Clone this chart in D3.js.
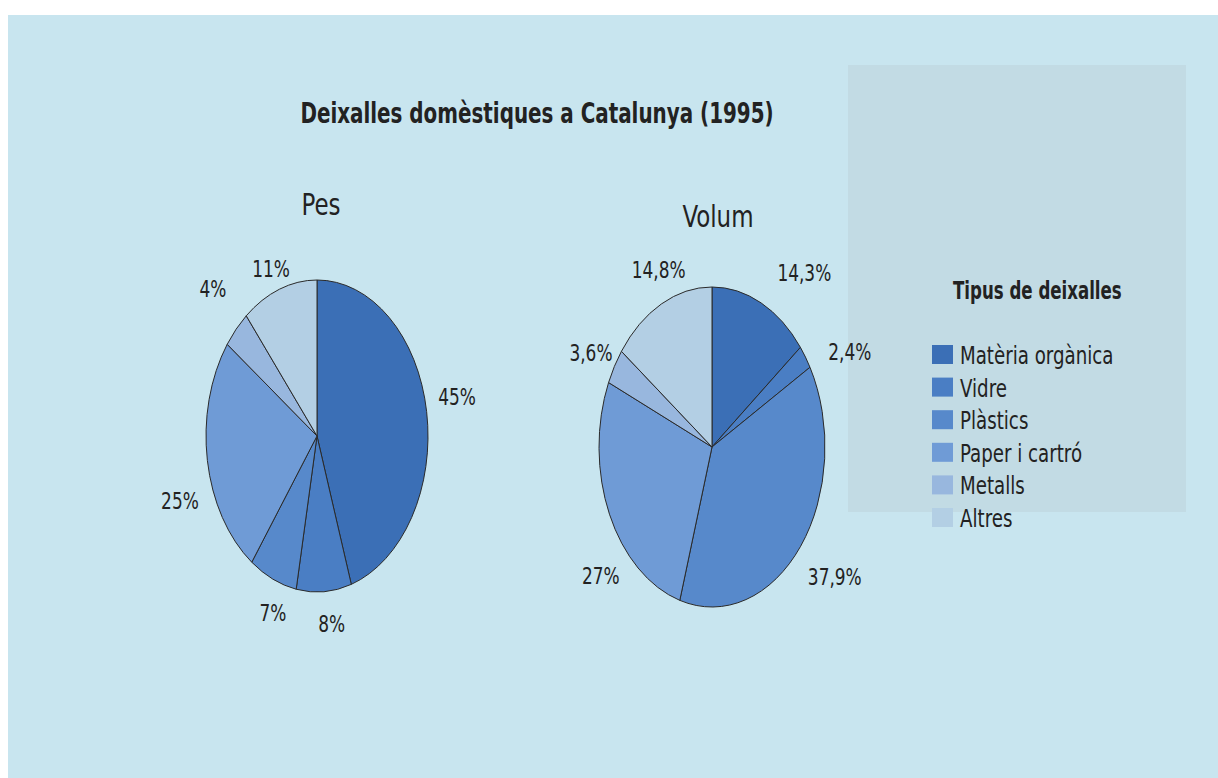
<!DOCTYPE html>
<html lang="ca">
<head>
<meta charset="utf-8">
<title>Deixalles domèstiques a Catalunya (1995)</title>
<script src="https://cdn.jsdelivr.net/npm/d3@7"></script>
<style>
  body { margin: 0; background: #ffffff; }
  text { font-family: "Liberation Sans Narrow", "DejaVu Sans Condensed", sans-serif; fill: #222; }
  .title { font-weight: bold; font-size: 28px; }
  .sub { font-size: 30px; }
  .lbl { font-size: 23px; }
  .legtitle { font-weight: bold; font-size: 24px; }
  .leg { font-size: 25px; }
</style>
</head>
<body>
<div id="chart"></div>
<script>
// data
var categories = ["Matèria orgànica", "Vidre", "Plàstics", "Paper i cartró", "Metalls", "Altres"];
var pesValues = [45, 8, 7, 25, 4, 11];
var volumValues = [14.3, 2.4, 37.9, 27, 3.6, 14.8];
var pesLabels = ["45%", "8%", "7%", "25%", "4%", "11%"];
var volumLabels = ["14,3%", "2,4%", "37,9%", "27%", "3,6%", "14,8%"];

var colors = ["#3b6fb6", "#4a7ec4", "#5789cb", "#6f9bd6", "#98b7de", "#b3cfe4"];

var width = 1218, height = 778;

var svg = d3.select("#chart").append("svg")
    .attr("width", width)
    .attr("height", height);

// squeeze text horizontally to get the condensed look of the printed typeface
function place(x, y, s) {
    return "translate(" + x + "," + y + ") scale(" + s + ",1)";
}

// page background (scanned paper)
svg.append("rect").attr("x", 8).attr("y", 15).attr("width", width - 8).attr("height", height - 15)
    .attr("fill", "#c8e5ef");
svg.append("rect").attr("x", 848).attr("y", 65).attr("width", 338).attr("height", 447)
    .attr("fill", "#c2dbe4");

svg.append("text").attr("class", "title")
    .attr("transform", place(537, 123, 0.79))
    .attr("text-anchor", "middle")
    .text("Deixalles domèstiques a Catalunya (1995)");

var color = d3.scaleOrdinal().domain(categories).range(colors);
var pie = d3.pie().sort(null).value(function(d) { return d.value; });

function drawPie(values, labels, cx, cy, rx, ry, name, nameX, nameY, nudge) {
    var data = values.map(function(v, i) { return {cat: categories[i], value: v, label: labels[i]}; });
    var arcs = pie(data);
    var arc = d3.arc().innerRadius(0).outerRadius(ry);
    var labelArc = d3.arc().innerRadius(ry * 1.25).outerRadius(ry * 1.25);

    var g = svg.append("g")
        .attr("transform", "translate(" + cx + "," + cy + ") scale(" + (rx / ry) + ",1)");
    g.selectAll("path")
        .data(arcs)
        .enter().append("path")
        .attr("d", arc)
        .attr("fill", function(d) { return color(d.data.cat); })
        .attr("stroke", "#2a2a2a")
        .attr("stroke-width", 1)
        .attr("vector-effect", "non-scaling-stroke");

    svg.selectAll(null)
        .data(arcs)
        .enter().append("text")
        .attr("class", "lbl")
        .attr("text-anchor", "middle")
        .attr("dy", "0.36em")
        .attr("transform", function(d, i) {
            var c = labelArc.centroid(d);
            return place(cx + c[0] * rx / ry + nudge[i][0], cy + c[1] + nudge[i][1], 0.82);
        })
        .text(function(d) { return d.data.label; });

    svg.append("text").attr("class", "sub")
        .attr("transform", place(nameX, nameY, 0.85))
        .attr("text-anchor", "middle")
        .text(name);
}

drawPie(pesValues, pesLabels, 317, 436, 111, 156, "Pes", 321, 215,
    [[3, -9], [6, -7], [11, -2], [0, 34], [-3, -14], [1, 16]]);
drawPie(volumValues, volumLabels, 712, 447, 113, 160, "Volum", 718, 227,
    [[31, 6], [21, 17], [12, 6], [17, 45], [1, 6], [10, 1]]);

// legend
svg.append("text").attr("class", "legtitle")
    .attr("transform", place(953, 299, 0.77))
    .text("Tipus de deixalles");

var leg = svg.selectAll(".legrow")
    .data(categories)
    .enter().append("g")
    .attr("class", "legrow")
    .attr("transform", function(d, i) { return "translate(932," + (345 + i * 32.6) + ")"; });
leg.append("rect")
    .attr("width", 21).attr("height", 19)
    .attr("fill", function(d) { return color(d); });
leg.append("text").attr("class", "leg")
    .attr("transform", place(28, 19, 0.81))
    .text(function(d) { return d; });
</script>
</body>
</html>
